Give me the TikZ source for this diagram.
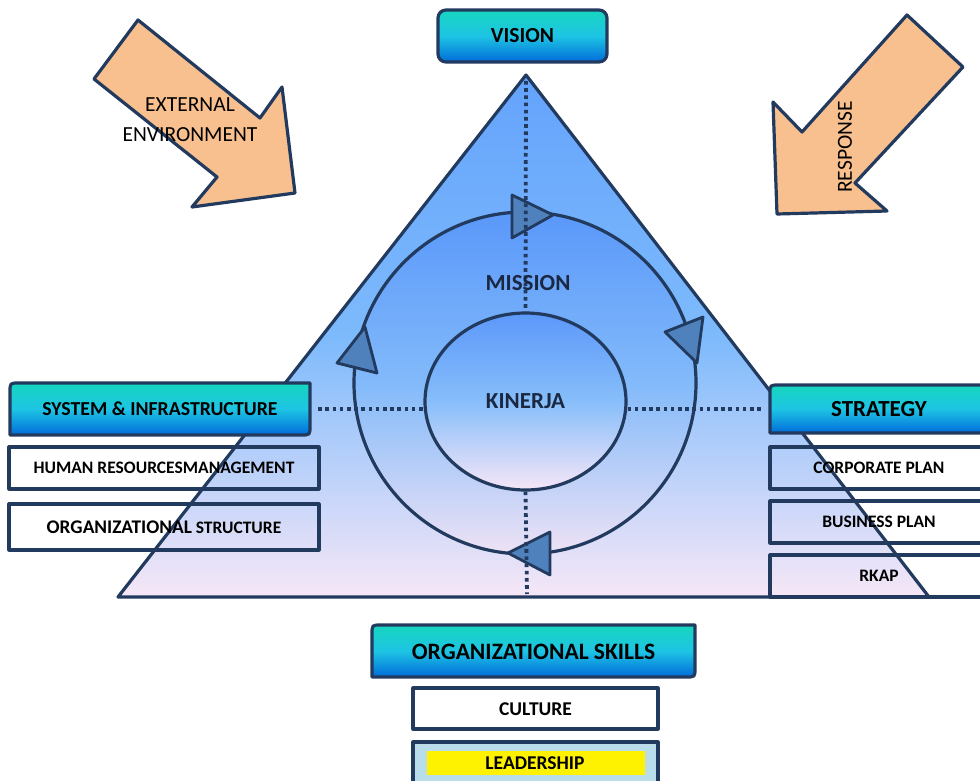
\documentclass[tikz,border=0pt]{standalone}
\usepackage{fontspec}
\setmainfont{Carlito}
\usetikzlibrary{shapes.geometric}
\definecolor{navy}{RGB}{35,58,95}
\definecolor{txtnavy}{RGB}{26,40,66}
\definecolor{peach}{RGB}{248,192,143}
\definecolor{tealA}{RGB}{22,214,190}
\definecolor{cyanA}{RGB}{30,196,228}
\definecolor{blueA}{RGB}{0,108,218}
\definecolor{triTop}{RGB}{100,163,252}
\definecolor{triMid}{RGB}{125,186,252}
\definecolor{triBot}{RGB}{246,231,247}
\definecolor{cirTop}{RGB}{90,152,250}
\definecolor{cirMid}{RGB}{130,186,250}
\definecolor{cirBot}{RGB}{238,226,245}
\definecolor{elTop}{RGB}{92,152,250}
\definecolor{elMid}{RGB}{135,190,250}
\definecolor{elBot}{RGB}{246,230,247}
\definecolor{headfill}{RGB}{79,129,189}
\definecolor{leadblue}{RGB}{185,222,233}
\newcommand\myDiagPath[4]{(#1,#4) -- (#1,#2+9) .. controls (#1,#2) .. (#1+9,#2) -- (#3,#2) -- (#3,#4-9) .. controls (#3,#4) .. (#3-9,#4) -- cycle}
\tikzset{
  outline/.style={draw=navy, line width=3.2pt, line join=round},
  gradbox/.style={outline, top color=tealA, bottom color=blueA, middle color=cyanA},
  dotline/.style={draw=navy, line width=3.8pt, dash pattern=on 3.6pt off 3.6pt},
  headtri/.style={outline, fill=headfill, line width=2.8pt},
  lbl/.style={inner sep=0pt, text=black, font=\bfseries\fontsize{17.5}{20}\selectfont},
  biglbl/.style={inner sep=0pt, text=black, font=\bfseries\fontsize{23}{26}\selectfont},
  arrlbl/.style={inner sep=0pt, text=black, font=\fontsize{21.5}{30}\selectfont, align=center},
}
\begin{document}
\begin{tikzpicture}[x=1pt,y=-1pt]
\useasboundingbox (0,0) rectangle (980,781);
\clip (0,0) rectangle (980,781);

% block arrows
\draw[outline, fill=peach] (138,20) -- (94,79) -- (217,177) -- (192,207) -- (295,193) -- (282,87) -- (260,118) -- cycle;
\node[arrlbl] (ext) at (190,120) {EXTERNAL\\ENVIRONMENT};
\draw[outline, fill=peach] (907,15) -- (963,67) -- (855,183) -- (887,211) -- (777,214) -- (773,102) -- (802,132) -- cycle;
\node[arrlbl, rotate=90] (resp) at (845,147) {RESPONSE};

% triangle
\coordinate (apex) at (526,75);
\coordinate (basemid) at (527,594);
\draw[outline] [top color=triTop, bottom color=triBot, middle color=triMid] (apex) -- (929,597) -- (118,597) -- cycle;

% mission circle and kinerja ellipse
\node[circle, minimum size=342pt, inner sep=0pt, top color=cirTop, bottom color=cirBot, middle color=cirMid] (cyc) at (525,383) {};
\node[ellipse, outline, minimum width=201pt, minimum height=177pt, inner sep=0pt, top color=elTop, bottom color=elBot, middle color=elMid] (kinerja) at (525.5,401.5) {};
\draw[outline] (cyc.center) circle[radius=171];

% arrowheads on circle
\draw[headtri] (512,195) -- (512,238) -- (553,215) -- cycle;
\draw[headtri] (665,332) -- (703,317) -- (697,363) -- cycle;
\draw[headtri] (365,327) -- (337,363) -- (377,373) -- cycle;
\draw[headtri] (508,553) -- (550,532) -- (550,575) -- cycle;

% boxes left
\draw[gradbox] \myDiagPath{10}{383}{310}{435};
\node[lbl, font=\bfseries\fontsize{19.8}{22}\selectfont, minimum width=300pt, minimum height=52pt] (sys) at (160,409) {SYSTEM \& INFRASTRUCTURE};
\draw[outline] (9,447) rectangle (319,489);
\node[lbl] (hrm) at (164,468) {HUMAN RESOURCESMANAGEMENT};
\draw[outline] (9,504) rectangle (319,550);
\node[lbl] (orgs) at (164,527) {{\fontsize{19.3}{20}\selectfont ORGANIZATIONAL} STRUCTURE};

% boxes right
\draw[gradbox] \myDiagPath{770}{385}{988}{433};
\node[biglbl, minimum width=218pt, minimum height=48pt] (strat) at (879,409) {STRATEGY};
\draw[outline] (770,447) rectangle (988,489);
\node[lbl] (corp) at (879,468) {CORPORATE PLAN};
\draw[outline] (770,501) rectangle (988,543);
\node[lbl] (bus) at (879,522) {BUSINESS PLAN};
\draw[outline] (770,555) rectangle (988,597);
\node[lbl] (rkap) at (879,576) {RKAP};

% dotted guide lines
\draw[dotline] ([xshift=8pt]sys.east) -- (sys.east -| kinerja.west);
\draw[dotline] (strat.west -| kinerja.east) -- ([xshift=-8pt]strat.west);
\draw[dotline] ([yshift=-6pt]apex) -- (kinerja.north);
\draw[dotline] (kinerja.south) -- (basemid);

% labels in circle
\node[biglbl, text=txtnavy] (mission) at (528,283) {MISSION};
\node[biglbl, text=txtnavy] (kin) at (kinerja.center) {KINERJA};

% vision
\draw[gradbox, rounded corners=8pt] (438,10) rectangle (607,62);
\node[biglbl, font=\bfseries\fontsize{21.5}{24}\selectfont, minimum width=169pt, minimum height=52pt] (vision) at (522.5,36) {VISION};

% organizational skills
\draw[gradbox] \myDiagPath{372}{625}{695}{677};
\node[biglbl, font=\bfseries\fontsize{23.5}{26}\selectfont] (orgsk) at (533.5,651.5) {ORGANIZATIONAL SKILLS};
\draw[outline, fill=white] (413,688) rectangle (658,729);
\node[lbl, font=\bfseries\fontsize{19.5}{22}\selectfont] (culture) at (535.5,709) {CULTURE};
\draw[outline, fill=leadblue] (413,742) rectangle (658,800);
\fill[yellow] (427,751) rectangle (645,775);
\node[lbl, font=\bfseries\fontsize{19.5}{22}\selectfont] (lead) at (535,763.5) {LEADERSHIP};
\end{tikzpicture}
\end{document}
